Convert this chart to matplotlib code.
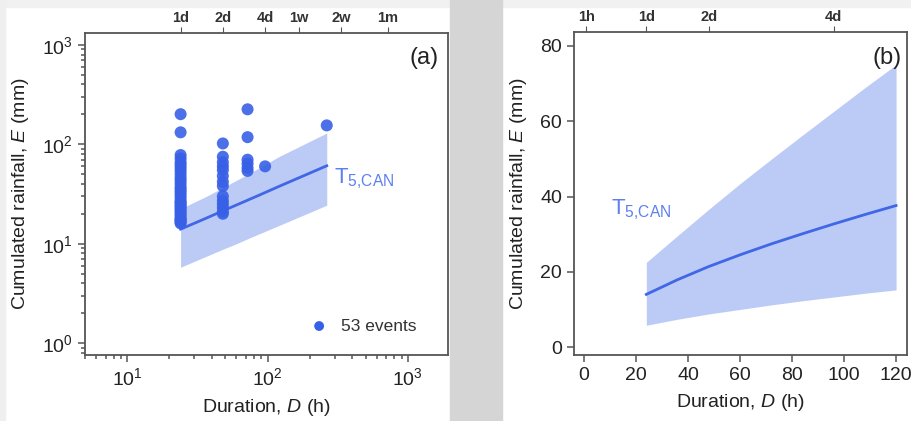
import matplotlib
matplotlib.use("Agg")
import matplotlib.pyplot as plt
from matplotlib.patches import Rectangle
from matplotlib.ticker import LogLocator, LogFormatterSciNotation, NullFormatter, NullLocator
import numpy as np

plt.rcParams["font.family"] = ["Liberation Sans", "DejaVu Sans"]
plt.rcParams["mathtext.fontset"] = "custom"
plt.rcParams["mathtext.rm"] = "Liberation Sans"
plt.rcParams["mathtext.it"] = "Liberation Sans:italic"
plt.rcParams["mathtext.bf"] = "Liberation Sans:bold"

# Rainfall events: duration (h) and cumulated rainfall (mm)
event_duration = ([24] * 31) + ([48] * 14) + ([72] * 6) + [96, 264]
event_rainfall = [201, 132, 78, 72, 66, 62, 58, 54, 50, 46, 43, 40, 37, 35,
                  33, 31, 29, 27, 26, 25, 24, 23, 22, 21, 20, 19, 18, 17.5,
                  17, 16.5, 16,
                  102, 75, 66, 60, 55, 48, 42, 38, 30, 27, 25, 23, 21, 20,
                  225, 118, 70, 64, 58, 54,
                  60, 155]

# T5,CAN threshold curve with its uncertainty band
curve_duration = [24, 36, 48, 60, 72, 84, 96, 108, 120, 264]
curve_mid = [14.0, 17.9, 21.4, 24.5, 27.4, 30.1, 32.7, 35.2, 37.6, 60.8]
curve_upper = [22.5, 29.6, 36.6, 43.4, 49.9, 56.3, 62.6, 68.9, 75.0, 130.0]
curve_lower = [5.8, 7.4, 8.8, 10.0, 11.2, 12.3, 13.3, 14.3, 15.2, 24.4]

# Secondary duration labels
top_a_pos = [24, 48, 96, 168, 336, 720]
top_a_lab = ["1d", "2d", "4d", "1w", "2w", "1m"]
top_b_pos = [1, 24, 48, 96]
top_b_lab = ["1h", "1d", "2d", "4d"]

BAND = "#bccaf6"
LINE = "#3f67e6"
DOT = "#3860e6"
LABEL = "#5d80ee"
SPINE = "#555555"
TXT = "#222222"

fig = plt.figure(figsize=(9.12, 4.21), dpi=100, facecolor="white")
W, H = 912, 421
def frect(x0, y0, x1, y1, color):
    fig.patches.append(Rectangle((x0 / W, 1 - y1 / H), (x1 - x0) / W, (y1 - y0) / H,
                                 transform=fig.transFigure, color=color, zorder=-10))
frect(0, 0, W, 7, "#f1f1f1")
frect(0, 0, 5, H, "#efefef")
frect(450, 0, 502, H, "#d5d5d5")

def style(ax):
    for s in ax.spines.values():
        s.set_color(SPINE)
        s.set_linewidth(1.3)
    ax.tick_params(which="both", direction="out", color=SPINE, width=1.1,
                   labelsize=14, labelcolor=TXT, right=False, top=False)
    ax.tick_params(which="major", length=5)
    ax.tick_params(which="minor", length=3)

def top_axis(ax, pos, lab):
    top = ax.secondary_xaxis("top")
    top.set_xticks(pos, lab)
    top.xaxis.set_minor_locator(NullLocator())
    top.tick_params(direction="out", length=4, color=SPINE, labelsize=10.5,
                    labelcolor="#333333", pad=2)
    for t in top.get_xticklabels():
        t.set_fontweight("bold")
    top.spines["top"].set_visible(False)
    return top

subscript_label = "T$_{\\mathrm{5{,}CAN}}$"

# ---- panel (a): log-log ----
axa = fig.add_axes([85 / W, 1 - 355 / H, (448 - 85) / W, (355 - 33) / H])
axa.set_xscale("log")
axa.set_yscale("log")
axa.set_xlim(5, 1930)
axa.set_ylim(10 ** -0.12, 10 ** 3.12)
style(axa)
d = np.array(curve_duration)
axa.fill_between(d, curve_lower, curve_upper, color=BAND, lw=0, zorder=1)
axa.plot(d, curve_mid, color=LINE, lw=2, zorder=2)
axa.scatter(event_duration, event_rainfall, s=75, color=DOT, alpha=0.9,
            edgecolors="none", zorder=3)
axa.xaxis.set_major_locator(LogLocator(base=10, numticks=10))
axa.yaxis.set_major_locator(LogLocator(base=10, numticks=10))
axa.xaxis.set_minor_locator(LogLocator(base=10, subs=np.arange(2, 10), numticks=20))
axa.yaxis.set_minor_locator(LogLocator(base=10, subs=np.arange(2, 10), numticks=20))
axa.xaxis.set_major_formatter(LogFormatterSciNotation())
axa.yaxis.set_major_formatter(LogFormatterSciNotation())
axa.xaxis.set_minor_formatter(NullFormatter())
axa.yaxis.set_minor_formatter(NullFormatter())
axa.set_xlabel("Duration, $\\mathit{D}$ (h)", fontsize=14, color=TXT, labelpad=6)
axa.set_ylabel("Cumulated rainfall, $\\mathit{E}$ (mm)", fontsize=14, color=TXT, labelpad=8)
axa.text(0.975, 0.955, "(a)", transform=axa.transAxes, fontsize=17, ha="right",
         va="top", color=TXT)
axa.text(295, 45, subscript_label, fontsize=16, color=LABEL, va="center")
axa.scatter([0.645], [0.09], s=50, color=DOT, transform=axa.transAxes, zorder=3,
            edgecolors="none")
axa.text(0.705, 0.09, "53 events", transform=axa.transAxes, fontsize=12.5,
         color="#333333", va="center")
top_axis(axa, top_a_pos, top_a_lab)

# ---- panel (b): linear ----
axb = fig.add_axes([574 / W, 1 - 355 / H, (907 - 574) / W, (355 - 32) / H])
axb.set_xlim(-3.8, 124.2)
axb.set_ylim(-2.1, 83.7)
style(axb)
nb = sum(1 for v in curve_duration if v <= 120)
axb.fill_between(d[:nb], curve_lower[:nb], curve_upper[:nb], color=BAND, lw=0, zorder=1)
axb.plot(d[:nb], curve_mid[:nb], color=LINE, lw=2, zorder=2)
axb.set_xticks([0, 20, 40, 60, 80, 100, 120])
axb.set_yticks([0, 20, 40, 60, 80])
axb.set_xlabel("Duration, $\\mathit{D}$ (h)", fontsize=14, color=TXT, labelpad=6)
axb.set_ylabel("Cumulated rainfall, $\\mathit{E}$ (mm)", fontsize=14, color=TXT, labelpad=8)
axb.text(0.985, 0.955, "(b)", transform=axb.transAxes, fontsize=17, ha="right",
         va="top", color=TXT)
axb.text(10.5, 36.5, subscript_label, fontsize=16, color=LABEL, va="center")
top_axis(axb, top_b_pos, top_b_lab)

fig.savefig("out.png", dpi=100, facecolor=fig.get_facecolor())
